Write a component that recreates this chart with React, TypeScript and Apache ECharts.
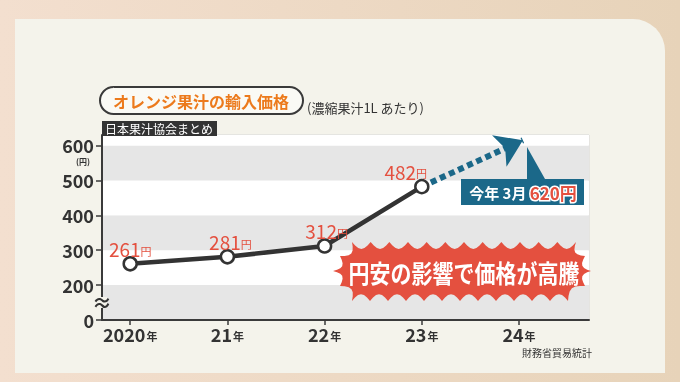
import React, { useEffect, useRef } from "react";
import * as echarts from "echarts";

const years = [2020, 2021, 2022, 2023];
const prices = [261, 281, 312, 482];
const xTicks = [2020, 2021, 2022, 2023, 2024];
const forecast = { year: 2024.04, value: 615 };
const labelOffsets = [[0, 2], [3, 2], [2, 2], [-16, 2]];

const FONT = "'Noto Sans CJK JP', 'Noto Sans', sans-serif";
const TEAL = "#1b6889";
const RED = "#e4503f";
const DARK = "#333333";

function burstPoints(): number[][] {
  const tips: number[][] = [];
  const n = 13;
  const x0 = 352;
  const x1 = 576;
  for (let i = 0; i < n; i++) tips.push([x0 + ((x1 - x0) * i) / (n - 1), 242]);
  tips.push([585, 256], [591, 271], [585, 286]);
  for (let i = 0; i < n; i++) tips.push([x1 - 8 - ((x1 - x0 - 8) * i) / (n - 1), 301]);
  tips.push([340, 286], [333, 271], [340, 256]);
  const cx = 462;
  const cy = 271;
  const pts: number[][] = [];
  for (let k = 0; k < tips.length; k++) {
    const p = tips[k];
    const q = tips[(k + 1) % tips.length];
    const dx = q[0] - p[0];
    const dy = q[1] - p[1];
    const len = Math.sqrt(dx * dx + dy * dy);
    let nx = -dy / len;
    let ny = dx / len;
    const mx = (p[0] + q[0]) / 2;
    const my = (p[1] + q[1]) / 2;
    if (nx * (cx - mx) + ny * (cy - my) < 0) {
      nx = -nx;
      ny = -ny;
    }
    const depth = Math.min(7, len * 0.38);
    const steps = 6;
    for (let s = 0; s < steps; s++) {
      const u = s / steps;
      const d = depth * Math.sin(Math.PI * u);
      pts.push([p[0] + dx * u + nx * d, p[1] + dy * u + ny * d]);
    }
  }
  return pts;
}

export default function App() {
  const ref = useRef<HTMLDivElement>(null);
  useEffect(() => {
    if (!ref.current) return;
    const chart = echarts.init(ref.current, null, { renderer: "svg" });
    const data = years.map((y, i) => ({
      value: [y, prices[i]],
      label: { offset: labelOffsets[i] },
    }));
    chart.setOption({
      animation: false,
      textStyle: { fontFamily: FONT },
      grid: {
        left: 102,
        right: 91,
        top: 135,
        bottom: 62,
        show: true,
        backgroundColor: "#ffffff",
        borderColor: "#d6d6d6",
        borderWidth: 1,
        outerBoundsMode: "none",
        containLabel: false,
      },
      xAxis: {
        type: "value",
        min: 2019.71,
        max: 2024.72,
        axisLine: { show: true, onZero: false, lineStyle: { color: "#3a3a3a", width: 2 } },
        axisTick: { show: true, customValues: xTicks, length: 5, lineStyle: { color: "#3a3a3a", width: 1.5 } },
        splitLine: { show: false },
        axisLabel: {
          customValues: xTicks,
          margin: 5,
          formatter: (v: number) => `{n|${v === 2020 ? "2020" : String(v % 100)}}{u|年}`,
          rich: {
            n: { fontSize: 18, fontWeight: "bold", color: DARK, fontFamily: FONT },
            u: { fontSize: 11, fontWeight: "bold", color: DARK, fontFamily: FONT, padding: [4, 0, 0, 1] },
          },
        },
      },
      yAxis: {
        type: "value",
        min: 100,
        max: 630,
        interval: 100,
        axisLine: { show: true, lineStyle: { color: "#3a3a3a", width: 2 } },
        axisTick: { show: true, length: 6, lineStyle: { color: "#3a3a3a", width: 1.5 } },
        splitLine: { show: false },
        splitArea: { show: true, areaStyle: { color: ["#e6e6e6", "#ffffff"] } },
        axisLabel: {
          margin: 8,
          color: DARK,
          fontSize: 18,
          lineHeight: 18,
          fontWeight: "bold",
          fontFamily: FONT,
          formatter: (v: number) => (v === 100 ? "0" : String(v)),
        },
      },
      series: [
        {
          type: "line",
          data,
          z: 5,
          lineStyle: { color: "#333333", width: 4.5 },
          symbol: "circle",
          symbolSize: 13,
          itemStyle: { color: "#ffffff", borderColor: "#333333", borderWidth: 2.5 },
          label: {
            show: true,
            position: "top",
            distance: 0,
            formatter: (p: any) => `{n|${p.value[1]}}{u|円}`,
            rich: {
              n: { fontSize: 19, color: RED, fontFamily: FONT, fontWeight: "normal" },
              u: { fontSize: 11, color: RED, fontFamily: FONT, padding: [4, 0, 0, 0] },
            },
          },
          markLine: {
            silent: true,
            symbol: ["none", "arrow"],
            symbolSize: 26,
            label: { show: false },
            lineStyle: { color: TEAL, width: 6, type: [6, 4], opacity: 1, cap: "butt" },
            itemStyle: { color: TEAL },
            emphasis: { disabled: true },
            data: [
              [
                { coord: [years[3], prices[3]] },
                { coord: [forecast.year, forecast.value] },
              ],
            ],
            z: 3,
          },
        },
      ],
      graphic: [
        {
          type: "rect",
          z: -100,
          silent: true,
          shape: { x: 0, y: 0, width: 680, height: 382 },
          style: {
            fill: new echarts.graphic.LinearGradient(0, 0, 1, 0, [
              { offset: 0, color: "#f3dfcf" },
              { offset: 1, color: "#e7d3b9" },
            ]),
          },
        },
        {
          type: "rect",
          z: -99,
          silent: true,
          shape: { x: 15, y: 19, width: 650, height: 354, r: [0, 32, 0, 0] },
          style: { fill: "#f4f3eb" },
        },
        {
          type: "rect",
          z: 50,
          shape: { x: 100, y: 87, width: 203, height: 27, r: 13.5 },
          style: { fill: "#fafaf5", stroke: "#3a3a3a", lineWidth: 2 },
        },
        {
          type: "text",
          z: 51,
          x: 201,
          y: 101,
          style: {
            text: "オレンジ果汁の輸入価格",
            fill: "#ec7a1c",
            font: `bold 16px ${FONT}`,
            align: "center",
            verticalAlign: "middle",
          },
        },
        {
          type: "text",
          z: 51,
          x: 307,
          y: 107,
          style: {
            text: "(濃縮果汁1L あたり)",
            fill: DARK,
            font: `13px ${FONT}`,
            align: "left",
            verticalAlign: "middle",
          },
        },
        {
          type: "rect",
          z: 50,
          shape: { x: 102, y: 121, width: 115, height: 15 },
          style: { fill: "#333333" },
        },
        {
          type: "text",
          z: 51,
          x: 105,
          y: 128.5,
          style: {
            text: "日本果汁協会まとめ",
            fill: "#ffffff",
            font: `12px ${FONT}`,
            align: "left",
            verticalAlign: "middle",
          },
        },
        {
          type: "text",
          z: 51,
          x: 83,
          y: 161,
          style: {
            text: "(円)",
            fill: DARK,
            font: `bold 8px ${FONT}`,
            lineHeight: 8,
            align: "center",
            verticalAlign: "middle",
          },
        },
        {
          type: "rect",
          z: 50,
          shape: { x: 97, y: 297, width: 10, height: 11 },
          style: { fill: "#f4f3eb" },
        },
        {
          type: "text",
          z: 51,
          x: 102,
          y: 302,
          style: { text: "≈", fill: DARK, font: `bold 20px ${FONT}`, align: "center", verticalAlign: "middle" },
        },
        {
          type: "polygon",
          z: 60,
          shape: {
            points: [
              [461, 179],
              [527, 179],
              [527, 147],
              [545, 179],
              [584, 179],
              [584, 205],
              [461, 205],
            ],
          },
          style: { fill: TEAL },
        },
        {
          type: "text",
          z: 61,
          x: 523,
          y: 192,
          style: {
            text: "{a|今年 3月 }{b|620円}",
            align: "center",
            verticalAlign: "middle",
            rich: {
              a: { fontSize: 15, fontWeight: "bold", fill: "#ffffff", fontFamily: FONT },
              b: {
                fontSize: 17,
                fontWeight: "bold",
                fill: RED,
                stroke: "#ffffff",
                lineWidth: 3,
                fontFamily: FONT,
              },
            },
          },
        },
        {
          type: "polygon",
          z: 60,
          shape: { points: burstPoints() },
          style: { fill: RED },
        },
        {
          type: "text",
          z: 61,
          x: 464,
          y: 272,
          scaleX: 0.84,
          style: {
            text: "円安の影響で価格が高騰",
            fill: "#ffffff",
            font: `bold 25px ${FONT}`,
            align: "center",
            verticalAlign: "middle",
          },
        },
        {
          type: "text",
          z: 51,
          x: 592,
          y: 352,
          style: {
            text: "財務省貿易統計",
            fill: DARK,
            font: `10px ${FONT}`,
            align: "right",
            verticalAlign: "middle",
          },
        },
      ],
    });
    return () => chart.dispose();
  }, []);
  return (
    <div
      ref={ref}
      style={{ position: "fixed", left: 0, top: 0, width: 680, height: 382 }}
    />
  );
}
